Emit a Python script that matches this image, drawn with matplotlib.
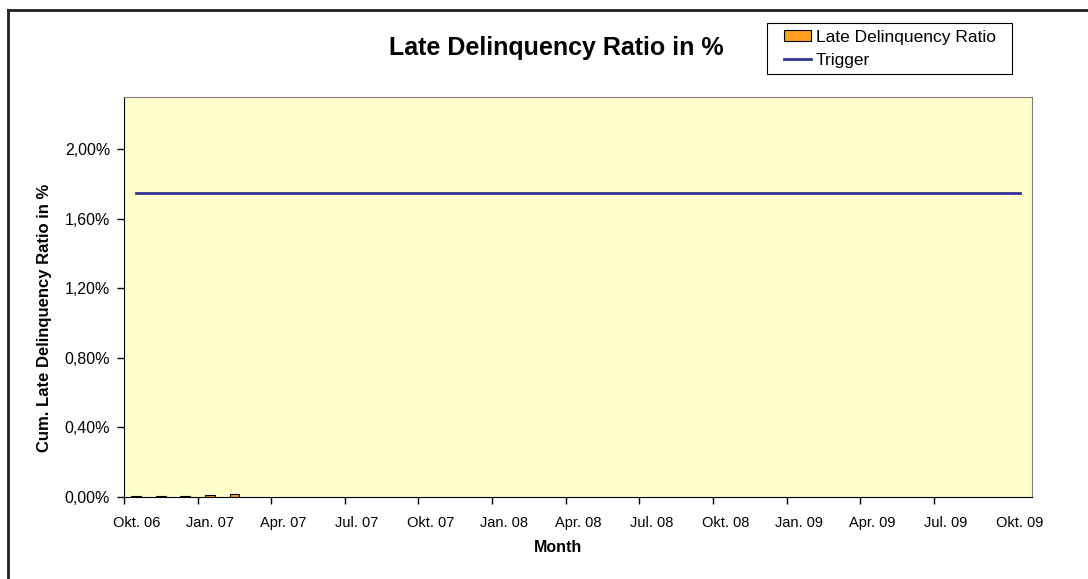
import matplotlib
matplotlib.use("Agg")
import matplotlib.pyplot as plt
from matplotlib.lines import Line2D
from matplotlib.patches import Rectangle
from matplotlib.ticker import FuncFormatter, FixedLocator

plt.rcParams['font.family'] = ['Liberation Sans', 'DejaVu Sans']

# data (ratios as fractions)
months = ["Okt. 06", "Nov. 06", "Dez. 06", "Jan. 07", "Feb. 07", "Mrz. 07",
          "Apr. 07", "Mai. 07", "Jun. 07", "Jul. 07", "Aug. 07", "Sep. 07",
          "Okt. 07", "Nov. 07", "Dez. 07", "Jan. 08", "Feb. 08", "Mrz. 08",
          "Apr. 08", "Mai. 08", "Jun. 08", "Jul. 08", "Aug. 08", "Sep. 08",
          "Okt. 08", "Nov. 08", "Dez. 08", "Jan. 09", "Feb. 09", "Mrz. 09",
          "Apr. 09", "Mai. 09", "Jun. 09", "Jul. 09", "Aug. 09", "Sep. 09",
          "Okt. 09"]
late_ratio = [0.00004, 0.00004, 0.00005, 0.0001, 0.00016]
trigger = [0.0175] * len(months)

W, H = 1088, 579
fig = plt.figure(figsize=(W / 100, H / 100), dpi=100)
ax = fig.add_axes([124 / W, 1 - 497 / H, 908 / W, 400 / H])
ax.set_facecolor('#FFFFCC')

x_all = list(range(len(months)))
ax.bar(x_all[:len(late_ratio)], late_ratio, width=0.4, color='#FFA020',
       edgecolor='black', linewidth=0.8, label='Late Delinquency Ratio', zorder=2)
ax.plot(x_all, trigger, color='#333399', linewidth=2, label='Trigger', zorder=3)

ax.set_xlim(-0.5, len(months) - 0.5)
ax.set_ylim(0, 0.023)

# y axis
ax.set_yticks([0, 0.004, 0.008, 0.012, 0.016, 0.020])
ax.yaxis.set_major_formatter(FuncFormatter(lambda v, p: f"{v * 100:.2f}%".replace('.', ',')))
ax.tick_params(axis='y', direction='out', length=5, width=1, labelsize=11.5, pad=5)

# x axis: ticks between categories, labels every 3rd month
ax.xaxis.set_major_locator(FixedLocator([i - 0.5 for i in range(0, len(months) - 1, 3)]))
ax.xaxis.set_major_formatter(FuncFormatter(lambda v, p: ""))
ax.xaxis.set_minor_locator(FixedLocator(x_all[::3]))
ax.set_xticklabels([months[i] for i in x_all[::3]], minor=True)
ax.tick_params(axis='x', which='major', direction='out', length=5, width=1)
ax.tick_params(axis='x', which='minor', length=0, labelsize=10.5, pad=14)

for side in ['top', 'right']:
    ax.spines[side].set_color('#808080')
for side in ['left', 'bottom']:
    ax.spines[side].set_color('black')

ax.set_xlabel("Month", fontweight='bold', fontsize=11.5)
ax.xaxis.set_label_coords((558 - 124) / 908, -(548 - 497) / 400, transform=ax.transAxes)
ax.xaxis.label.set_va('center')
ax.set_ylabel("Cum. Late Delinquency Ratio in %", fontweight='bold', fontsize=12)
ax.yaxis.set_label_coords(-(124 - 45) / 908, (497 - 318) / 400, transform=ax.transAxes)
ax.yaxis.label.set_va('center')
fig.text(0.511, 0.917, "Late Delinquency Ratio in %", ha='center', va='center',
         fontsize=18, fontweight='bold')

# legend: box drawn separately to get the wide Excel-style padding
handles, labels = ax.get_legend_handles_labels()
order = [labels.index('Late Delinquency Ratio'), labels.index('Trigger')]
fig.add_artist(Rectangle((767 / W, 1 - 74 / H), 245 / W, 51 / H, transform=fig.transFigure,
                         facecolor='white', edgecolor='black', linewidth=0.8, zorder=4))
leg = fig.legend([handles[i] for i in order], [labels[i] for i in order],
                 loc='upper left', bbox_to_anchor=(784 / W, 1 - 30 / H),
                 borderaxespad=0, borderpad=0, fontsize=12.5, frameon=False,
                 handlelength=1.55, handleheight=0.6, handletextpad=0.3,
                 labelspacing=0.45)
leg.set_zorder(5)

# chart frame (only top and left visible)
fig.add_artist(Line2D([8 / W, 1.0], [1 - 10 / H, 1 - 10 / H], color='#222222', linewidth=2))
fig.add_artist(Line2D([8 / W, 8 / W], [0.0, 1 - 10 / H], color='#222222', linewidth=2))

fig.savefig("out.png", dpi=100)
